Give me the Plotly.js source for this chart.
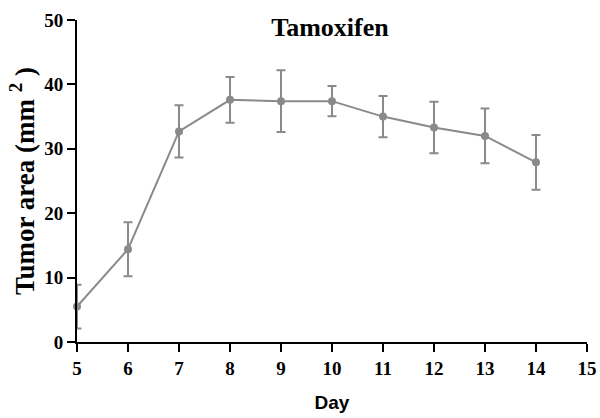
<!DOCTYPE html>
<html>
<head>
<meta charset="utf-8">
<script src="https://cdn.plot.ly/plotly-3.0.1.min.js"></script>
<style>html,body{margin:0;padding:0;background:#fff;}#chart{width:600px;height:418px;}</style>
</head>
<body>
<div id="chart"></div>
<script>
var days = [5, 6, 7, 8, 9, 10, 11, 12, 13, 14];
var tumorArea = [5.5, 14.4, 32.7, 37.6, 37.4, 37.4, 35.0, 33.3, 32.0, 27.9];
var errorSD = [3.4, 4.2, 4.05, 3.55, 4.8, 2.35, 3.2, 4.0, 4.25, 4.25];
var xTicks = [5, 6, 7, 8, 9, 10, 11, 12, 13, 14, 15];
var yTicks = [0, 10, 20, 30, 40, 50];

var grey = '#8a8a8a';
var trace = {
  x: days, y: tumorArea, type: 'scatter', mode: 'lines+markers',
  line: {color: grey, width: 2},
  marker: {color: grey, size: 8},
  error_y: {type: 'data', array: errorSD, visible: true, color: grey, thickness: 2, width: 4.5},
  cliponaxis: false, showlegend: false
};
var tickFont = {family: 'Liberation Serif, Times New Roman, serif', size: 19, color: '#000', weight: 'bold'};
var layout = {
  width: 600, height: 418,
  margin: {l: 77, r: 13, t: 19.5, b: 76},
  paper_bgcolor: '#fff', plot_bgcolor: '#fff',
  title: {text: 'Tamoxifen', x: 0.55, xanchor: 'center', y: 0.935, yanchor: 'middle', yref: 'container',
          font: {family: 'Liberation Serif, Times New Roman, serif', size: 26, color: '#000', weight: 'bold'}},
  xaxis: {range: [5, 15], tickvals: xTicks, ticktext: xTicks.map(String), showgrid: false, zeroline: false,
          showline: true, linecolor: '#000', linewidth: 2, ticks: 'outside', ticklen: 8, tickwidth: 2, tickcolor: '#000',
          tickfont: tickFont,
          title: {text: 'Day', standoff: 18, font: {family: 'Liberation Sans, Arial, sans-serif', size: 19, color: '#000', weight: 'bold'}}},
  yaxis: {range: [0, 50], tickvals: yTicks, ticktext: yTicks.map(String), showgrid: false, zeroline: false,
          showline: true, linecolor: '#000', linewidth: 2, ticks: 'outside', ticklen: 8, tickwidth: 2, tickcolor: '#000',
          tickfont: tickFont,
          title: {text: 'Tumor area (mm <sup>2</sup> )', standoff: 2, font: {family: 'Liberation Serif, Times New Roman, serif', size: 27, color: '#000', weight: 'bold'}}}
};
Plotly.newPlot('chart', [trace], layout, {displayModeBar: false, staticPlot: true});
</script>
</body>
</html>
